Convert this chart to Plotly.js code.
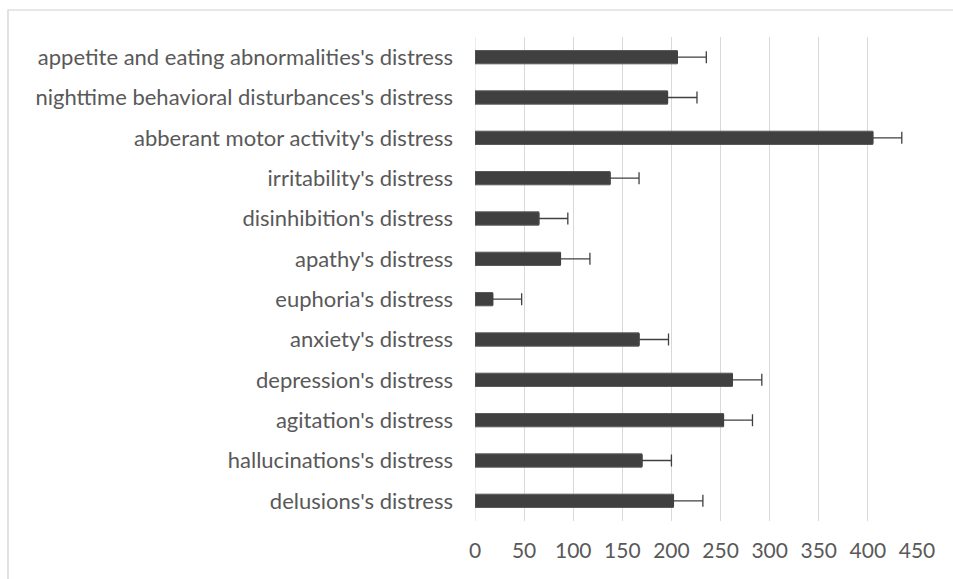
<!DOCTYPE html>
<html>
<head>
<meta charset="utf-8">
<script src="https://cdn.plot.ly/plotly-3.0.1.min.js"></script>
<style>
  html, body { margin: 0; padding: 0; background: #ffffff; }
  #chart { width: 953px; height: 579px; }
</style>
</head>
<body>
<div id="chart"></div>
<script>
// Categories listed bottom to top
const categories = [
  "delusions's distress",
  "hallucinations's distress",
  "agitation's distress",
  "depression's distress",
  "anxiety's distress",
  "euphoria's distress",
  "apathy's distress",
  "disinhibition's distress",
  "irritability's distress",
  "abberant motor activity's distress",
  "nighttime behavioral disturbances's distress",
  "appetite and eating abnormalities's distress"
];
const values = [202, 170, 253, 262, 167, 18, 87, 65, 137.5, 405, 196, 206];
const errors = [30, 30, 29.5, 30, 30, 29.5, 30, 29.5, 29.5, 29.5, 30, 29.5];
const xTicks = [0, 50, 100, 150, 200, 250, 300, 350, 400, 450];

const W = 953, H = 579;
const L = 475, R = 36, T = 37, B = 58;
const pw = W - L - R, ph = H - T - B;
// outer frame line (light gray, left and top edges)
const fx = (8 - L) / pw;
const fyTop = (H - B - 10) / ph;
const fyBot = (H - B - 585) / ph;

const trace = {
  type: 'bar',
  orientation: 'h',
  y: categories,
  x: values,
  marker: { color: '#404040', line: { color: '#5a5a5a', width: 1 } },
  error_x: {
    type: 'data',
    array: errors,
    symmetric: false,
    arrayminus: errors.map(() => 0),
    color: '#404040',
    thickness: 1.3,
    width: 6
  },
  hoverinfo: 'x+y'
};

const layout = {
  width: W, height: H,
  margin: { l: L, r: R, t: T, b: B, pad: 0 },
  paper_bgcolor: '#ffffff',
  plot_bgcolor: '#ffffff',
  showlegend: false,
  bargap: 0.67,
  font: { family: 'Lato, "Open Sans", sans-serif', color: '#595959', size: 21 },
  xaxis: {
    range: [0, 450],
    tickvals: xTicks,
    ticktext: xTicks.map(String),
    showgrid: true,
    gridcolor: '#d9d9d9',
    gridwidth: 1,
    zeroline: false,
    showline: false,
    ticks: '',
    ticklabelstandoff: 15,
    tickfont: { size: 21, color: '#595959' },
    fixedrange: true
  },
  yaxis: {
    type: 'category',
    categoryorder: 'array',
    categoryarray: categories,
    showgrid: false,
    zeroline: false,
    showline: false,
    ticks: '',
    ticklabelstandoff: 21,
    tickfont: { size: 22, color: '#595959' },
    fixedrange: true
  },
  shapes: [
    {
      type: 'path',
      xref: 'paper', yref: 'paper',
      path: `M ${fx} ${fyBot} L ${fx} ${fyTop} L 1.2 ${fyTop}`,
      line: { color: '#d0d0d0', width: 1.2 }
    },
    {
      type: 'line', xref: 'x', yref: 'paper',
      x0: 0, x1: 0, y0: 0, y1: 1,
      line: { color: '#d9d9d9', width: 1 },
      layer: 'below'
    }
  ]
};

Plotly.newPlot('chart', [trace], layout, { displayModeBar: false, staticPlot: true });
</script>
</body>
</html>
